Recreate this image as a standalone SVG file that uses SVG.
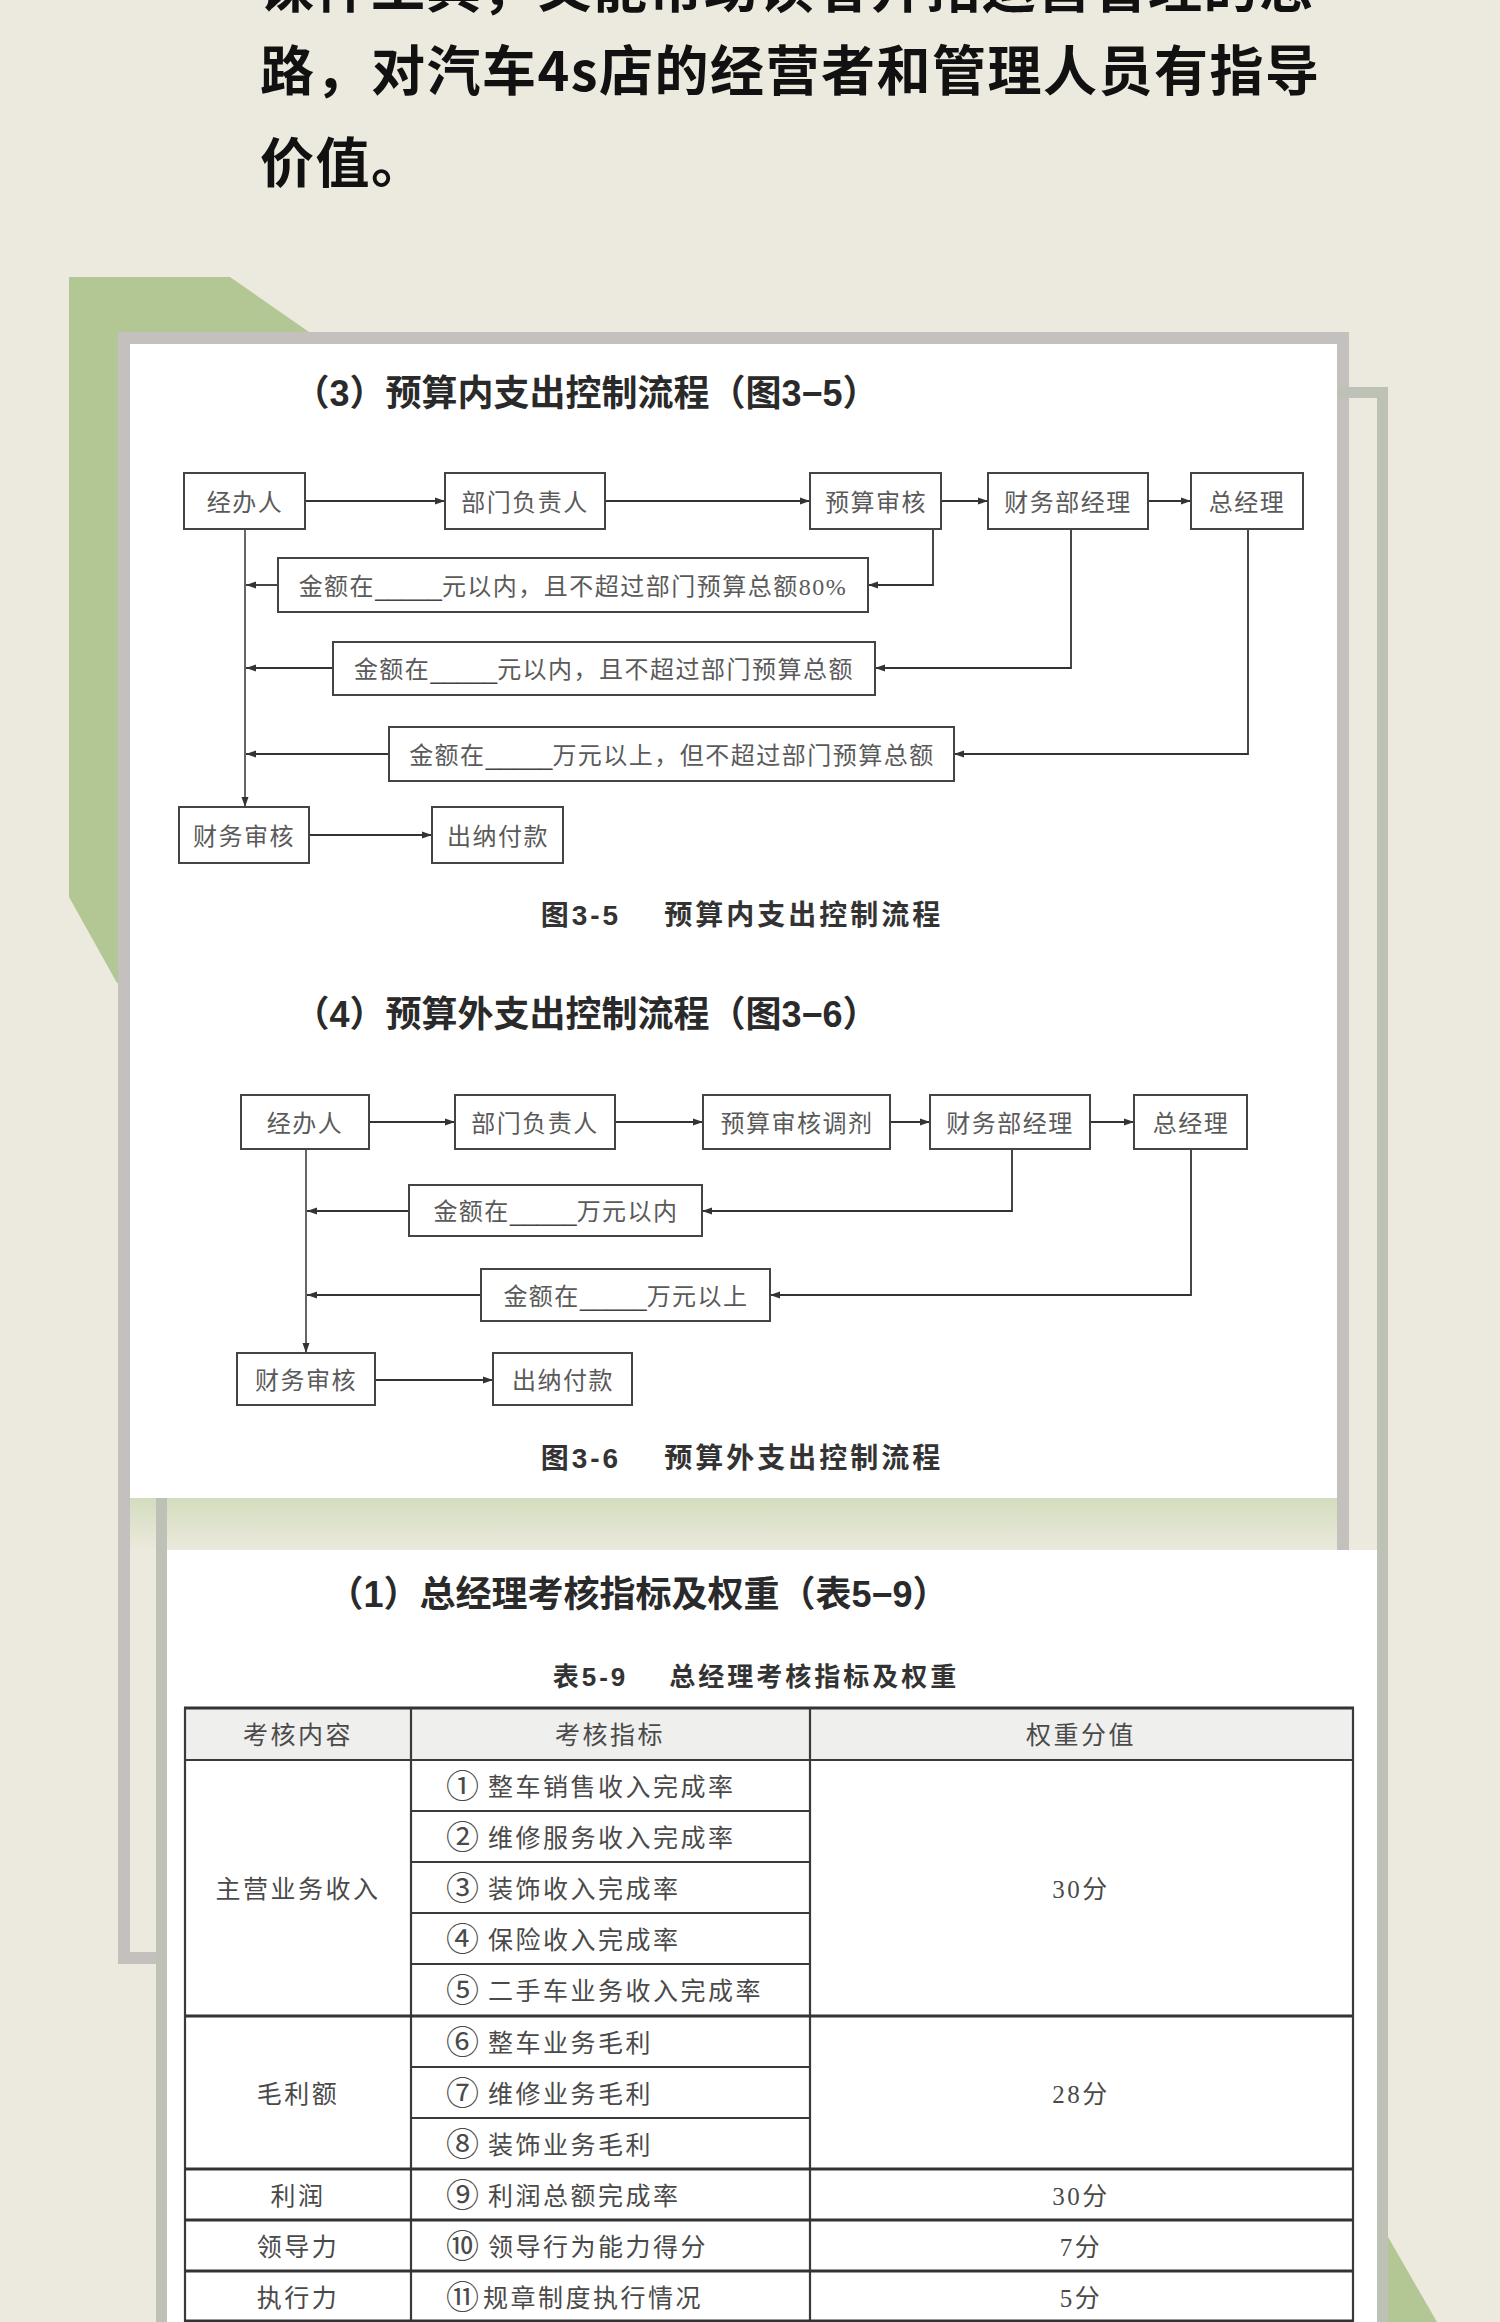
<svg xmlns="http://www.w3.org/2000/svg" width="1500" height="2322" viewBox="0 0 1500 2322">
<defs>
<style>
.para{font-family:"Noto Sans CJK SC","Noto Sans",sans-serif;font-weight:700;font-size:54px;fill:#111;letter-spacing:1.5px}
.h{font-family:"Liberation Sans","Noto Sans CJK SC",sans-serif;font-weight:700;font-size:36px;fill:#2a2a2a;text-anchor:middle;dominant-baseline:central}
.cap{font-family:"Liberation Sans","Noto Sans CJK SC",sans-serif;font-weight:700;font-size:28px;fill:#333;text-anchor:middle;dominant-baseline:central;letter-spacing:3px}
.box{fill:#fff;stroke:#444;stroke-width:2}
.nt{font-family:"Liberation Serif","Noto Sans CJK SC",serif;font-size:24px;fill:#5a5a5a;text-anchor:middle;dominant-baseline:central;letter-spacing:1.5px}
.bl{font-family:"Liberation Sans",sans-serif;letter-spacing:0;fill:#444}
.con{fill:none;stroke:#333;stroke-width:1.8}
.tt{font-family:"Liberation Serif","Noto Sans CJK SC",serif;font-size:25px;fill:#4a4a4a;dominant-baseline:central;letter-spacing:2.5px}
.cn{font-size:33px;letter-spacing:0}
.tc{text-anchor:middle}
.tl{stroke:#3a3a3a;stroke-width:2.2;fill:none}
.tlb{stroke:#333;stroke-width:3;fill:none}
</style>
<marker id="ah" viewBox="0 0 10 8" refX="10" refY="4" markerWidth="11" markerHeight="8" markerUnits="userSpaceOnUse" orient="auto"><path d="M0,0.5 L10,4 L0,7.5 z" fill="#333"/></marker>
<linearGradient id="shadow" x1="0" y1="0" x2="0" y2="1"><stop offset="0" stop-color="#D3DDBE"/><stop offset="1" stop-color="#ECE9DD"/></linearGradient>
</defs>

<!-- background -->
<rect x="0" y="0" width="1500" height="2322" fill="#ECE9DE"/>

<!-- paragraph text -->
<g id="paragraph">
<text class="para" x="260" y="8">课件工具，又能帮助读者开拓运营管理的思</text>
<text class="para" x="260" y="91">路，对汽车4s店的经营者和管理人员有指导</text>
<text class="para" x="260" y="183">价值。</text>
</g>

<!-- decorative shapes -->
<g id="decor">
<polygon points="69,277 230,277 309,332 309,990 117,983 69,897" fill="#B3C794"/>
<polygon points="1388,2237 1437,2322 1388,2322" fill="#B3C794"/>
<rect x="124" y="338" width="1219" height="1620" fill="none" stroke="#C3C0BE" stroke-width="12"/>
<rect x="130" y="1498" width="1207" height="52" fill="url(#shadow)"/>
<rect x="161.5" y="392.5" width="1221" height="2000" fill="none" stroke="#BEC1B5" stroke-width="11"/>
<rect x="167" y="1550" width="1210" height="772" fill="#fff"/>
<rect x="130" y="344" width="1207" height="1154" fill="#fff"/>
</g>

<!-- headings -->
<g id="headings">
<text class="h" x="586" y="393">（3）预算内支出控制流程（图3−5）</text>
<text class="cap" x="742" y="915" xml:space="preserve">图3-5    预算内支出控制流程</text>
<text class="h" x="586" y="1014">（4）预算外支出控制流程（图3−6）</text>
<text class="cap" x="742" y="1458" xml:space="preserve">图3-6    预算外支出控制流程</text>
<text class="h" x="638" y="1594">（1）总经理考核指标及权重（表5−9）</text>
<text class="cap" x="756" y="1677" style="font-size:26px" xml:space="preserve">表5-9    总经理考核指标及权重</text>
</g>

<!-- connectors -->
<g id="connectors">
<path class="con" d="M305,501 H445" marker-end="url(#ah)"/>
<path class="con" d="M605,501 H810" marker-end="url(#ah)"/>
<path class="con" d="M941,501 H988" marker-end="url(#ah)"/>
<path class="con" d="M1148,501 H1191" marker-end="url(#ah)"/>
<path class="con" d="M245,529 V807" marker-end="url(#ah)" style="stroke-width:1.5"/>
<path class="con" d="M933,529 V585 H868" marker-end="url(#ah)"/>
<path class="con" d="M278,585 H246" marker-end="url(#ah)"/>
<path class="con" d="M1071,529 V668 H875" marker-end="url(#ah)"/>
<path class="con" d="M333,668 H246" marker-end="url(#ah)"/>
<path class="con" d="M1248,529 V754 H954" marker-end="url(#ah)"/>
<path class="con" d="M389,754 H246" marker-end="url(#ah)"/>
<path class="con" d="M309,835 H432" marker-end="url(#ah)"/>

<path class="con" d="M369,1122 H455" marker-end="url(#ah)"/>
<path class="con" d="M615,1122 H703" marker-end="url(#ah)"/>
<path class="con" d="M890,1122 H930" marker-end="url(#ah)"/>
<path class="con" d="M1090,1122 H1134" marker-end="url(#ah)"/>
<path class="con" d="M306,1149 V1353" marker-end="url(#ah)" style="stroke-width:1.5"/>
<path class="con" d="M1012,1149 V1211 H702" marker-end="url(#ah)"/>
<path class="con" d="M409,1211 H307" marker-end="url(#ah)"/>
<path class="con" d="M1191,1149 V1295 H770" marker-end="url(#ah)"/>
<path class="con" d="M481,1295 H307" marker-end="url(#ah)"/>
<path class="con" d="M375,1380 H493" marker-end="url(#ah)"/>
</g>

<!-- flowchart 1 nodes -->
<g id="f1-jingbanren"><rect class="box" x="184" y="473" width="121" height="56"/><text class="nt" x="245" y="503">经办人</text></g>
<g id="f1-bumen"><rect class="box" x="445" y="473" width="160" height="56"/><text class="nt" x="525" y="503">部门负责人</text></g>
<g id="f1-yusuan"><rect class="box" x="810" y="473" width="131" height="56"/><text class="nt" x="876" y="503">预算审核</text></g>
<g id="f1-caiwubu"><rect class="box" x="988" y="473" width="160" height="56"/><text class="nt" x="1068" y="503">财务部经理</text></g>
<g id="f1-zongjingli"><rect class="box" x="1191" y="473" width="112" height="56"/><text class="nt" x="1247" y="503">总经理</text></g>
<g id="f1-cond1"><rect class="box" x="278" y="558" width="590" height="54"/><text class="nt" x="573" y="587">金额在<tspan class="bl">_____</tspan>元以内，且不超过部门预算总额80%</text></g>
<g id="f1-cond2"><rect class="box" x="333" y="642" width="542" height="53"/><text class="nt" x="604" y="670">金额在<tspan class="bl">_____</tspan>元以内，且不超过部门预算总额</text></g>
<g id="f1-cond3"><rect class="box" x="389" y="727" width="565" height="54"/><text class="nt" x="672" y="756">金额在<tspan class="bl">_____</tspan>万元以上，但不超过部门预算总额</text></g>
<g id="f1-caiwushenhe"><rect class="box" x="179" y="807" width="130" height="56"/><text class="nt" x="244" y="837">财务审核</text></g>
<g id="f1-chuna"><rect class="box" x="432" y="807" width="131" height="56"/><text class="nt" x="498" y="837">出纳付款</text></g>

<!-- flowchart 2 nodes -->
<g id="f2-jingbanren"><rect class="box" x="241" y="1095" width="128" height="54"/><text class="nt" x="305" y="1124">经办人</text></g>
<g id="f2-bumen"><rect class="box" x="455" y="1095" width="160" height="54"/><text class="nt" x="535" y="1124">部门负责人</text></g>
<g id="f2-tiaoji"><rect class="box" x="703" y="1095" width="187" height="54"/><text class="nt" x="797" y="1124">预算审核调剂</text></g>
<g id="f2-caiwubu"><rect class="box" x="930" y="1095" width="160" height="54"/><text class="nt" x="1010" y="1124">财务部经理</text></g>
<g id="f2-zongjingli"><rect class="box" x="1134" y="1095" width="113" height="54"/><text class="nt" x="1191" y="1124">总经理</text></g>
<g id="f2-cond1"><rect class="box" x="409" y="1185" width="293" height="51"/><text class="nt" x="556" y="1212">金额在<tspan class="bl">_____</tspan>万元以内</text></g>
<g id="f2-cond2"><rect class="box" x="481" y="1269" width="289" height="52"/><text class="nt" x="626" y="1297">金额在<tspan class="bl">_____</tspan>万元以上</text></g>
<g id="f2-caiwushenhe"><rect class="box" x="237" y="1353" width="138" height="52"/><text class="nt" x="306" y="1381">财务审核</text></g>
<g id="f2-chuna"><rect class="box" x="493" y="1353" width="139" height="52"/><text class="nt" x="563" y="1381">出纳付款</text></g>

<!-- table -->
<g id="table">
<rect x="185" y="1708" width="1168" height="52" fill="#EFEFED"/>
<path class="tlb" d="M184,1708 H1354"/>
<path class="tl" d="M185,1708 V2322 M411,1708 V2322 M810,1708 V2322 M1353,1708 V2322"/>
<path class="tl" d="M185,1760 H1353"/>
<path class="tl" d="M411,1811 H810 M411,1862 H810 M411,1913 H810 M411,1964 H810 M411,2067 H810 M411,2118 H810"/>
<path class="tlb" d="M185,2016 H1353 M185,2169 H1353 M185,2220 H1353 M185,2271 H1353 M185,2321 H1353"/>

<text class="tt tc" x="298" y="1735">考核内容</text>
<text class="tt tc" x="610" y="1735">考核指标</text>
<text class="tt tc" x="1081" y="1735">权重分值</text>

<text class="tt tc" x="298" y="1889">主营业务收入</text>
<text class="tt tc" x="298" y="2094">毛利额</text>
<text class="tt tc" x="298" y="2196">利润</text>
<text class="tt tc" x="298" y="2247">领导力</text>
<text class="tt tc" x="298" y="2298">执行力</text>

<text class="tt tc" x="1081" y="1889">30分</text>
<text class="tt tc" x="1081" y="2094">28分</text>
<text class="tt tc" x="1081" y="2196">30分</text>
<text class="tt tc" x="1081" y="2247">7分</text>
<text class="tt tc" x="1081" y="2298">5分</text>

<text class="tt" x="446" y="1787"><tspan class="cn">①</tspan> <tspan x="488">整车销售收入完成率</tspan></text>
<text class="tt" x="446" y="1838"><tspan class="cn">②</tspan> <tspan x="488">维修服务收入完成率</tspan></text>
<text class="tt" x="446" y="1889"><tspan class="cn">③</tspan> <tspan x="488">装饰收入完成率</tspan></text>
<text class="tt" x="446" y="1940"><tspan class="cn">④</tspan> <tspan x="488">保险收入完成率</tspan></text>
<text class="tt" x="446" y="1991"><tspan class="cn">⑤</tspan> <tspan x="488">二手车业务收入完成率</tspan></text>
<text class="tt" x="446" y="2043"><tspan class="cn">⑥</tspan> <tspan x="488">整车业务毛利</tspan></text>
<text class="tt" x="446" y="2094"><tspan class="cn">⑦</tspan> <tspan x="488">维修业务毛利</tspan></text>
<text class="tt" x="446" y="2145"><tspan class="cn">⑧</tspan> <tspan x="488">装饰业务毛利</tspan></text>
<text class="tt" x="446" y="2196"><tspan class="cn">⑨</tspan> <tspan x="488">利润总额完成率</tspan></text>
<text class="tt" x="446" y="2247"><tspan class="cn">⑩</tspan> <tspan x="488">领导行为能力得分</tspan></text>
<text class="tt" x="446" y="2298"><tspan class="cn">⑪</tspan><tspan x="483">规章制度执行情况</tspan></text>
</g>
</svg>
